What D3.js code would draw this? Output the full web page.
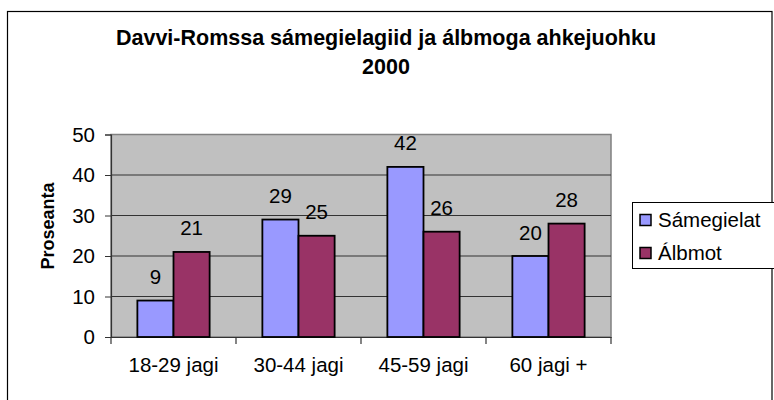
<!DOCTYPE html>
<html><head><meta charset="utf-8">
<script src="https://cdn.jsdelivr.net/npm/d3@7"></script>
<style>body{margin:0;background:#fff;} svg{display:block;font-family:Arial,"Liberation Sans",sans-serif;}</style>
</head><body>
<svg id="c" width="774" height="400"></svg>
<script>
const categories = ["18-29 jagi", "30-44 jagi", "45-59 jagi", "60 jagi +"];
const seriesNames = ["Sámegielat", "Álbmot"];
const samegielat = [9, 29, 42, 20];
const albmot = [21, 25, 26, 28];
const yTicks = [0, 10, 20, 30, 40, 50];
const titleLines = ["Davvi-Romssa sámegielagiid ja álbmoga ahkejuohku", "2000"];
const yTitle = "Proseanta";
const colors = ["#9999ff", "#993366"];

const series = [samegielat, albmot];
const svg = d3.select("#c");
const L = 111, R = 611, T = 134.5, B = 337;

svg.append("rect").attr("x", 7.5).attr("y", 11.5).attr("width", 764.5).attr("height", 400)
  .attr("fill", "#fff").attr("stroke", "#000").attr("stroke-width", 1.2);

svg.selectAll("text.title").data(titleLines).join("text").attr("class", "title")
  .attr("x", 386).attr("y", (d, i) => 44.5 + i * 29)
  .attr("text-anchor", "middle").attr("font-weight", "bold").attr("font-size", 21.5)
  .text(d => d);

const x = d3.scaleBand().domain(categories).range([L, R]).paddingInner(0).paddingOuter(0);
const x1 = d3.scaleBand().domain(seriesNames).range([0, x.bandwidth()]).paddingInner(0).paddingOuter(0.73);
const y = d3.scaleLinear().domain([0, 50]).range([B, T]);

svg.append("rect").attr("x", L).attr("y", T).attr("width", R - L).attr("height", B - T)
  .attr("fill", "#c0c0c0").attr("stroke", "#808080").attr("stroke-width", 1.5);

svg.append("g").selectAll("line").data(yTicks.filter(d => d > 0 && d < 50)).join("line")
  .attr("x1", L).attr("x2", R).attr("y1", d => y(d)).attr("y2", d => y(d))
  .attr("stroke", "#333").attr("stroke-width", 1);

const yAxis = svg.append("g").attr("transform", `translate(${L},0)`)
  .call(d3.axisLeft(y).tickValues(yTicks).tickSize(6).tickPadding(10));
yAxis.select(".domain").attr("stroke", "#333").attr("stroke-width", 1.2);
yAxis.selectAll(".tick line").attr("stroke", "#333");
yAxis.selectAll("text").attr("font-size", 20.5).attr("fill", "#000").attr("font-family", "Arial, 'Liberation Sans', sans-serif");

const xAxis = svg.append("g").attr("transform", `translate(0,${B})`)
  .call(d3.axisBottom(x).tickSize(0).tickPadding(20));
xAxis.select(".domain").attr("stroke", "#333").attr("stroke-width", 1.2);
xAxis.selectAll("text").attr("font-size", 20.5).attr("fill", "#000").attr("font-family", "Arial, 'Liberation Sans', sans-serif");
svg.append("g").selectAll("line").data(d3.range(categories.length + 1)).join("line")
  .attr("x1", i => L + i * x.bandwidth()).attr("x2", i => L + i * x.bandwidth())
  .attr("y1", B).attr("y2", B + 7).attr("stroke", "#333").attr("stroke-width", 1.2);

const groups = svg.append("g").selectAll("g").data(seriesNames).join("g");
groups.each(function (name, si) {
  const g = d3.select(this);
  g.selectAll("rect").data(series[si]).join("rect")
    .attr("x", (d, i) => x(categories[i]) + x1(name))
    .attr("y", d => y(d)).attr("width", x1.bandwidth()).attr("height", d => B - y(d))
    .attr("fill", colors[si]).attr("stroke", "#000").attr("stroke-width", 1.8);
  g.selectAll("text").data(series[si]).join("text")
    .attr("x", (d, i) => x(categories[i]) + x1(name) + x1.bandwidth() / 2)
    .attr("y", d => y(d) - 16.5).attr("text-anchor", "middle").attr("font-size", 20.5)
    .text(d => d);
});

svg.append("text").attr("transform", "translate(53.5,226) rotate(-90)")
  .attr("text-anchor", "middle").attr("font-weight", "bold").attr("font-size", 18).text(yTitle);

const lg = svg.append("g");
lg.append("rect").attr("x", 632.5).attr("y", 202.5).attr("width", 160).attr("height", 66)
  .attr("fill", "#fff").attr("stroke", "#000").attr("stroke-width", 1);
seriesNames.forEach((n, i) => {
  lg.append("rect").attr("x", 640).attr("y", 214.5 + i * 33).attr("width", 11).attr("height", 11)
    .attr("fill", colors[i]).attr("stroke", "#000").attr("stroke-width", 1.5);
  lg.append("text").attr("x", 658).attr("y", 227 + i * 33).attr("font-size", 20.5).text(n);
});
</script>
</body></html>
